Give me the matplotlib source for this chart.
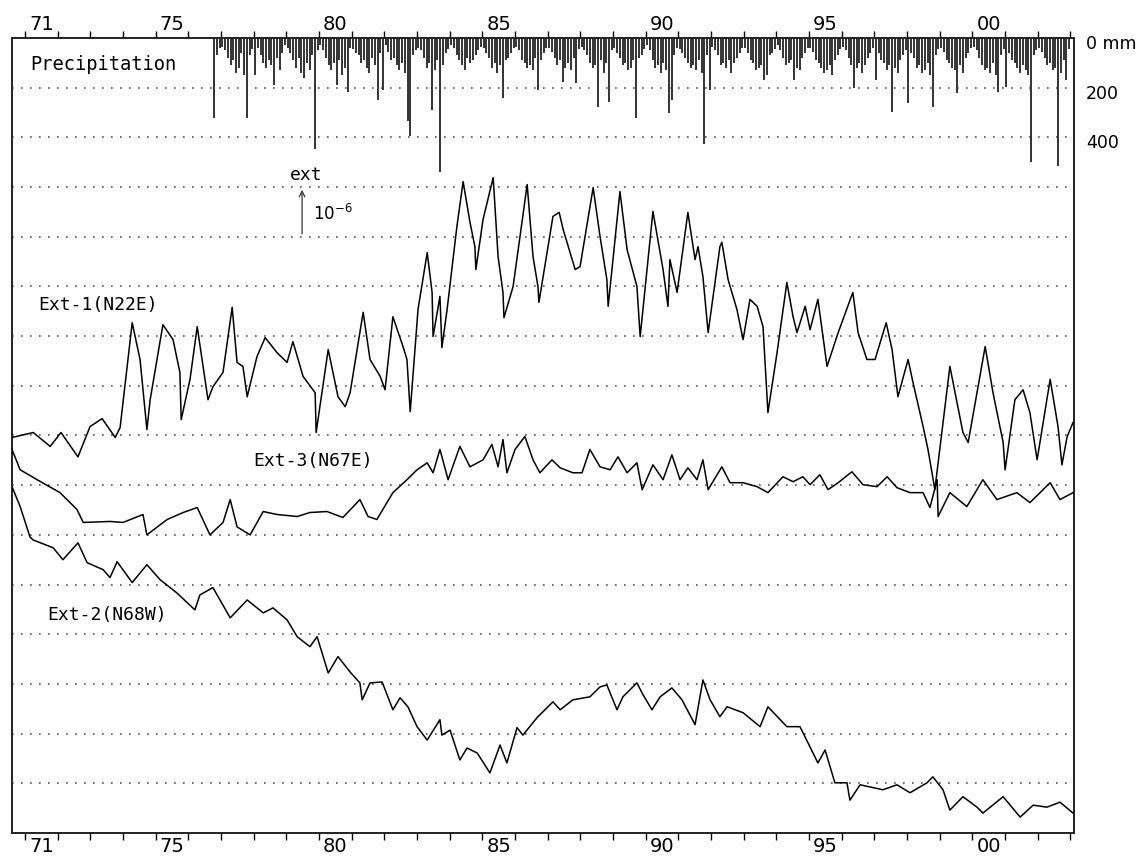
import numpy as np
import matplotlib
matplotlib.use('Agg')
import matplotlib.pyplot as plt
import matplotlib.transforms as mtransforms

# Strain curves, values in units of 1e-6 on the shared vertical scale (0 = bottom, 16 = top).
ext1_year = [1970.60, 1971.25, 1971.77, 1972.10, 1972.62, 1972.99, 1973.36, 1973.76, 1973.91, 1974.28,
             1974.52, 1974.73, 1974.83, 1975.22, 1975.53, 1975.74, 1975.78, 1976.05, 1976.27, 1976.60,
             1976.75, 1977.06, 1977.34, 1977.49, 1977.67, 1977.80, 1978.10, 1978.35, 1978.71, 1979.02,
             1979.20, 1979.51, 1979.88, 1979.91, 1980.28, 1980.58, 1980.80, 1980.95, 1981.35, 1981.56,
             1981.87, 1982.02, 1982.26, 1982.57, 1982.69, 1982.79, 1983.03, 1983.31, 1983.46, 1983.49,
             1983.70, 1983.76, 1983.92, 1984.22, 1984.41, 1984.62, 1984.77, 1984.80, 1985.02, 1985.33,
             1985.48, 1985.63, 1985.66, 1985.94, 1986.37, 1986.55, 1986.70, 1986.73, 1986.86, 1987.16,
             1987.35, 1987.47, 1987.84, 1987.99, 1988.39, 1988.60, 1988.81, 1988.85, 1989.21, 1989.43,
             1989.73, 1989.83, 1990.22, 1990.53, 1990.68, 1990.74, 1990.96, 1991.29, 1991.51, 1991.60,
             1991.75, 1991.91, 1992.27, 1992.33, 1992.52, 1992.79, 1992.98, 1993.19, 1993.41, 1993.59,
             1993.74, 1994.02, 1994.32, 1994.51, 1994.63, 1994.88, 1995.03, 1995.27, 1995.55, 1995.89,
             1996.34, 1996.50, 1996.77, 1997.02, 1997.36, 1997.54, 1997.72, 1998.03, 1998.18, 1998.49,
             1998.64, 1998.85, 1999.31, 1999.71, 1999.87, 2000.39, 2000.63, 2000.94, 2001.00, 2001.30,
             2001.55, 2001.76, 2001.98, 2002.38, 2002.62, 2002.74, 2002.90, 2003.08]
ext1_val = [7.96, 8.06, 7.78, 8.06, 7.57, 8.18, 8.34, 7.96, 8.16, 10.27,
            9.53, 8.12, 8.72, 10.23, 9.93, 9.27, 8.32, 9.13, 10.19, 8.72,
            8.98, 9.27, 10.58, 9.47, 9.39, 8.78, 9.59, 9.97, 9.67, 9.47,
            9.89, 9.19, 8.86, 8.06, 9.73, 8.78, 8.58, 8.86, 10.48, 9.53,
            9.19, 8.92, 10.39, 9.79, 9.53, 8.48, 10.54, 11.68, 10.88, 9.99,
            10.80, 9.77, 10.54, 12.21, 13.11, 12.29, 11.80, 11.34, 12.35, 13.19,
            11.60, 10.88, 10.37, 11.00, 13.05, 11.60, 11.00, 10.68, 11.20, 12.41,
            12.49, 12.15, 11.34, 11.40, 12.99, 12.01, 11.14, 10.60, 12.91, 11.74,
            11.00, 9.99, 12.51, 11.34, 10.60, 11.54, 10.88, 12.49, 11.54, 11.80,
            11.20, 10.07, 11.80, 11.89, 11.14, 10.54, 9.93, 10.74, 10.60, 10.19,
            8.46, 9.67, 11.08, 10.39, 10.07, 10.60, 10.13, 10.74, 9.39, 10.07,
            10.88, 10.07, 9.53, 9.53, 10.27, 9.73, 8.78, 9.53, 9.07, 8.18,
            7.72, 6.91, 9.39, 8.06, 7.86, 9.79, 8.86, 7.86, 7.31, 8.72,
            8.92, 8.46, 7.51, 9.13, 8.18, 7.41, 7.98, 8.26]

ext2_year = [1970.60, 1970.85, 1971.15, 1971.24, 1971.86, 1972.16, 1972.62, 1972.90, 1973.39, 1973.60,
             1973.82, 1974.28, 1974.73, 1975.13, 1975.65, 1976.20, 1976.35, 1976.75, 1977.28, 1977.80,
             1978.29, 1978.59, 1979.02, 1979.33, 1979.72, 1979.94, 1980.28, 1980.58, 1980.95, 1981.25,
             1981.32, 1981.56, 1981.93, 1982.26, 1982.48, 1982.72, 1983.00, 1983.31, 1983.70, 1983.76,
             1984.01, 1984.31, 1984.53, 1984.84, 1985.23, 1985.54, 1985.75, 1986.06, 1986.24, 1986.67,
             1987.16, 1987.38, 1987.77, 1988.29, 1988.60, 1988.81, 1989.12, 1989.30, 1989.73, 1989.92,
             1990.19, 1990.44, 1990.80, 1991.11, 1991.51, 1991.75, 1991.97, 1992.27, 1992.49, 1992.98,
             1993.50, 1993.74, 1994.32, 1994.72, 1995.03, 1995.27, 1995.49, 1995.79, 1996.16, 1996.25,
             1996.56, 1997.26, 1997.69, 1998.09, 1998.61, 1998.79, 1999.10, 1999.31, 1999.71, 2000.14,
             2000.32, 2000.94, 2001.46, 2001.86, 2002.28, 2002.68, 2003.08]
ext2_val = [6.97, 6.57, 5.96, 5.90, 5.74, 5.50, 5.84, 5.44, 5.30, 5.14,
            5.46, 5.04, 5.40, 5.10, 4.83, 4.49, 4.79, 4.94, 4.33, 4.69,
            4.43, 4.53, 4.29, 3.95, 3.75, 3.95, 3.22, 3.55, 3.24, 3.02,
            2.68, 3.02, 3.04, 2.48, 2.72, 2.54, 2.14, 1.87, 2.28, 1.97,
            2.07, 1.47, 1.71, 1.61, 1.21, 1.77, 1.41, 2.12, 1.97, 2.32,
            2.64, 2.48, 2.68, 2.74, 2.94, 2.98, 2.48, 2.74, 3.02, 2.78,
            2.48, 2.74, 2.92, 2.68, 2.18, 3.08, 2.68, 2.34, 2.54, 2.42,
            2.14, 2.54, 2.14, 2.14, 1.73, 1.41, 1.67, 1.01, 1.01, 0.66,
            0.97, 0.87, 0.97, 0.81, 1.01, 1.13, 0.87, 0.46, 0.73, 0.52,
            0.40, 0.73, 0.32, 0.56, 0.52, 0.62, 0.40]

ext3_year = [1970.60, 1970.85, 1971.37, 1972.07, 1972.59, 1972.78, 1973.60, 1974.00, 1974.61, 1974.73,
             1975.35, 1975.84, 1976.27, 1976.66, 1977.06, 1977.28, 1977.49, 1977.89, 1978.29, 1978.71,
             1979.33, 1979.72, 1980.24, 1980.73, 1981.25, 1981.50, 1981.77, 1982.26, 1982.69, 1983.00,
             1983.31, 1983.49, 1983.70, 1983.95, 1984.31, 1984.62, 1985.02, 1985.29, 1985.48, 1985.63,
             1985.75, 1986.00, 1986.30, 1986.55, 1986.76, 1987.13, 1987.38, 1987.77, 1988.05, 1988.29,
             1988.60, 1988.91, 1989.15, 1989.43, 1989.73, 1989.89, 1990.22, 1990.53, 1990.80, 1991.05,
             1991.29, 1991.57, 1991.75, 1991.91, 1992.33, 1992.58, 1992.98, 1993.41, 1993.74, 1994.20,
             1994.51, 1994.81, 1995.03, 1995.33, 1995.58, 1995.89, 1996.31, 1996.65, 1997.08, 1997.39,
             1997.69, 1998.09, 1998.49, 1998.70, 1998.92, 1998.95, 1999.31, 1999.83, 2000.32, 2000.75,
             2001.36, 2001.76, 2002.38, 2002.68, 2003.08]
ext3_val = [7.72, 7.31, 7.11, 6.85, 6.51, 6.25, 6.27, 6.25, 6.41, 6.00,
            6.31, 6.45, 6.55, 6.00, 6.25, 6.71, 6.16, 6.00, 6.47, 6.41,
            6.37, 6.45, 6.47, 6.35, 6.71, 6.37, 6.31, 6.85, 7.11, 7.31,
            7.45, 7.25, 7.72, 7.11, 7.78, 7.37, 7.51, 7.82, 7.37, 7.92,
            7.25, 7.72, 7.98, 7.51, 7.25, 7.51, 7.35, 7.25, 7.25, 7.72,
            7.37, 7.31, 7.57, 7.25, 7.45, 6.91, 7.41, 7.11, 7.61, 7.11,
            7.35, 7.11, 7.51, 6.91, 7.37, 7.05, 7.05, 6.97, 6.85, 7.17,
            7.07, 7.17, 7.01, 7.21, 6.91, 7.05, 7.27, 7.01, 6.97, 7.17,
            6.95, 6.85, 6.85, 6.55, 7.11, 6.37, 6.85, 6.57, 7.11, 6.71,
            6.85, 6.65, 7.05, 6.71, 6.85]

# Monthly precipitation (mm), Jan..Dec, 1976-2002 (record starts Oct 1976).
rain_first_year = 1976
rain_mm = [
    [0, 0, 0, 0, 0, 0, 0, 0, 0, 320, 70, 40],
    [35, 50, 80, 110, 90, 140, 120, 60, 150, 320, 70, 45],
    [150, 40, 70, 100, 120, 90, 110, 190, 80, 130, 60, 30],
    [40, 60, 90, 120, 80, 140, 160, 100, 130, 70, 448, 50],
    [30, 50, 80, 110, 130, 100, 190, 90, 150, 120, 216, 40],
    [45, 60, 70, 100, 90, 120, 140, 80, 110, 248, 60, 208],
    [30, 55, 90, 80, 110, 130, 100, 140, 336, 396, 70, 50],
    [40, 50, 80, 120, 100, 288, 130, 90, 540, 110, 60, 45],
    [30, 40, 70, 90, 110, 130, 80, 100, 90, 70, 50, 35],
    [40, 60, 80, 120, 100, 140, 110, 240, 90, 80, 60, 40],
    [35, 50, 90, 100, 120, 110, 130, 80, 208, 90, 60, 40],
    [40, 55, 80, 110, 90, 176, 120, 100, 130, 80, 180, 45],
    [35, 50, 70, 100, 120, 110, 276, 90, 140, 100, 256, 50],
    [40, 60, 80, 110, 100, 130, 120, 90, 320, 80, 70, 45],
    [30, 50, 90, 120, 110, 140, 100, 130, 300, 248, 70, 40],
    [45, 60, 80, 100, 120, 110, 130, 90, 140, 428, 70, 208],
    [35, 50, 70, 110, 100, 120, 90, 140, 100, 80, 60, 40],
    [40, 60, 90, 100, 130, 120, 110, 168, 150, 70, 60, 45],
    [30, 50, 80, 110, 100, 90, 168, 120, 130, 80, 60, 40],
    [40, 55, 90, 100, 120, 140, 130, 110, 150, 90, 70, 45],
    [35, 50, 80, 110, 200, 120, 100, 140, 110, 80, 60, 40],
    [168, 60, 90, 100, 130, 110, 296, 120, 140, 90, 70, 50],
    [260, 60, 80, 120, 110, 140, 130, 100, 150, 276, 70, 45],
    [40, 55, 90, 100, 120, 130, 220, 110, 140, 80, 60, 40],
    [35, 50, 80, 110, 130, 120, 140, 100, 150, 216, 70, 45],
    [196, 60, 90, 100, 120, 140, 110, 130, 150, 500, 70, 50],
    [40, 55, 80, 110, 100, 130, 120, 516, 140, 90, 168, 45],
]

tick_years = list(range(1971, 2004))
label_years = [1971, 1975, 1980, 1985, 1990, 1995, 2000]
label_text = ['71', '75', '80', '85', '90', '95', '00']
rain_ticks = [0, 200, 400]
rain_labels = ['0 mm', '200', '400']

TOP = 16.0          # top of the frame in strain units
MM_PER_UNIT = 200.0  # precipitation scale: 200 mm per grid step

fig = plt.figure(figsize=(11.41, 8.64), dpi=100)
ax = fig.add_axes([0.0105, 0.0359, 0.9308, 0.9201])
ax.set_xlim(1970.60, 2003.11)
ax.set_ylim(0, TOP)

# dotted horizontal guide lines
for v in range(1, 16):
    ax.axhline(v, color='#555555', lw=1.2, linestyle=(0, (1, 4.4)), zorder=1)

# precipitation hanging from the top frame
rain = np.array(rain_mm, dtype=float).ravel()
t = rain_first_year + (np.arange(rain.size) + 0.5) / 12.0
keep = rain > 0
ax.vlines(t[keep], TOP - rain[keep] / MM_PER_UNIT, TOP, color='#333333', lw=1.4, zorder=2)

# strain curves
for yr, val in [(ext1_year, ext1_val), (ext2_year, ext2_val), (ext3_year, ext3_val)]:
    ax.plot(yr, val, color='black', lw=1.1, zorder=3)

mono = 'DejaVu Sans Mono'
ax.text(1971.15, 15.47, 'Precipitation', family=mono, fontsize=13.5, va='center', ha='left')
ax.text(1971.40, 10.62, 'Ext-1(N22E)', family=mono, fontsize=13, va='center', ha='left')
ax.text(1977.98, 7.49, 'Ext-3(N67E)', family=mono, fontsize=13, va='center', ha='left')
ax.text(1971.67, 4.39, 'Ext-2(N68W)', family=mono, fontsize=13, va='center', ha='left')

# scale arrow: 1 grid step = 1e-6 extension
ax.annotate('', xy=(1979.48, 13.0), xytext=(1979.48, 12.0),
            arrowprops=dict(arrowstyle='->', color='#333333', lw=0.9, mutation_scale=10))
ax.text(1979.10, 13.25, 'ext', family=mono, fontsize=13, va='center', ha='left')
ax.text(1979.80, 12.45, r'10$^{-6}$', fontsize=12, va='center', ha='left')

# right-hand precipitation scale
trans = mtransforms.blended_transform_factory(ax.transAxes, ax.transData)
for mm, lab in zip(rain_ticks, rain_labels):
    ax.text(1.011, TOP - mm / MM_PER_UNIT - 0.12, lab, transform=trans, fontsize=12.5,
            va='center', ha='left', clip_on=False)

# year ticks on top and bottom, labels centred within the year
ax.set_xticks(tick_years)
ax.set_xticklabels([])
ax.set_xticks([y + 0.5 for y in label_years], minor=True)
ax.set_xticklabels(label_text, minor=True, fontsize=14)
ax.tick_params(axis='x', which='major', direction='out', length=5, width=1.0,
               top=True, bottom=True)
ax.tick_params(axis='x', which='minor', length=0, top=True, bottom=True,
               labeltop=True, labelbottom=True, pad=3)
ax.set_yticks([])

for side in ax.spines.values():
    side.set_linewidth(1.4)
    side.set_color('#222222')

fig.savefig('out.png', dpi=100)
